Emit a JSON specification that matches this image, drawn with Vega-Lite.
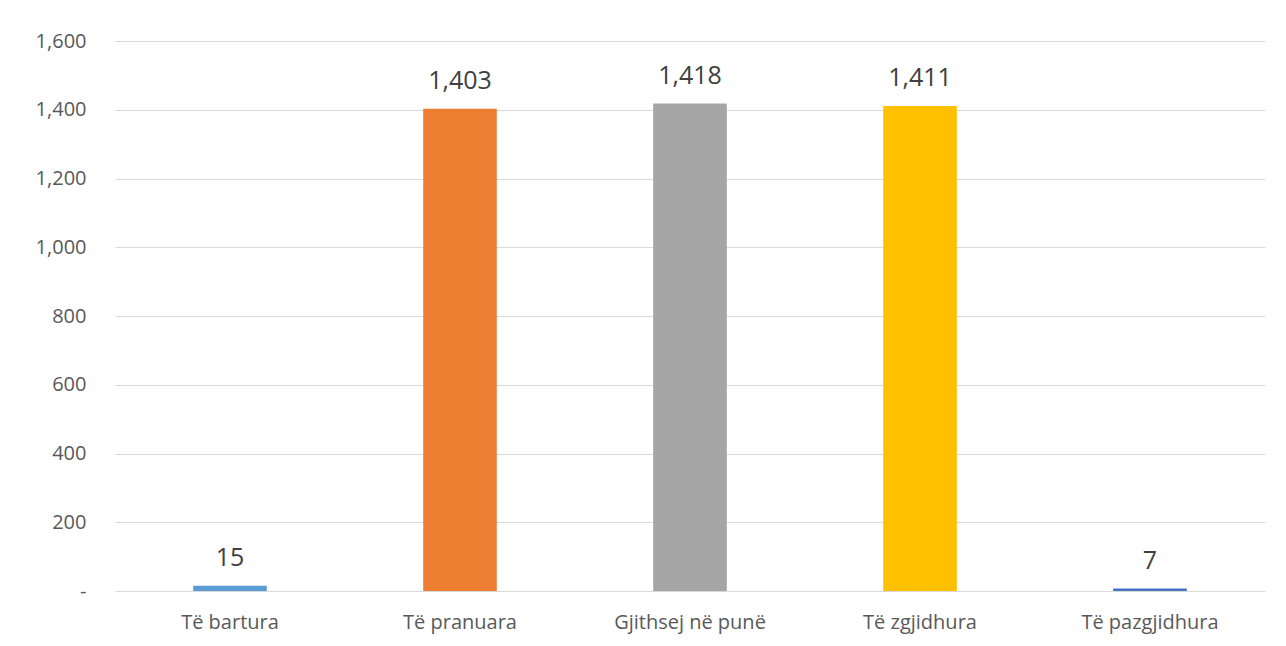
{
  "$schema": "https://vega.github.io/schema/vega-lite/v6.json",
  "width": 1150,
  "height": 550,
  "autosize": {"type": "none"},
  "padding": {"left": 115, "top": 41, "right": 21, "bottom": 55},
  "background": "white",
  "config": {
    "view": {"stroke": null},
    "font": "Open Sans"
  },
  "data": {
    "values": [
      {"kategoria": "Të bartura", "vlera": 15, "ngjyra": "#5B9BD5"},
      {"kategoria": "Të pranuara", "vlera": 1403, "ngjyra": "#ED7D31"},
      {"kategoria": "Gjithsej në punë", "vlera": 1418, "ngjyra": "#A5A5A5"},
      {"kategoria": "Të zgjidhura", "vlera": 1411, "ngjyra": "#FFC000"},
      {"kategoria": "Të pazgjidhura", "vlera": 7, "ngjyra": "#4472C4"}
    ]
  },
  "encoding": {
    "x": {
      "field": "kategoria",
      "type": "nominal",
      "sort": null,
      "scale": {"paddingInner": 0.68, "paddingOuter": 0.34},
      "axis": {
        "title": null,
        "labelAngle": 0,
        "labelFontSize": 20,
        "labelColor": "#595959",
        "labelBaseline": "alphabetic",
        "labelPadding": 37,
        "ticks": false,
        "domain": false
      }
    },
    "y": {
      "field": "vlera",
      "type": "quantitative",
      "scale": {"domain": [0, 1600]},
      "axis": {
        "title": null,
        "values": [0, 200, 400, 600, 800, 1000, 1200, 1400, 1600],
        "labelExpr": "datum.value === 0 ? '-' : format(datum.value, ',')",
        "labelFontSize": 20,
        "labelColor": "#595959",
        "labelPadding": 29,
        "ticks": false,
        "domain": false,
        "grid": true,
        "gridColor": "#D9D9D9",
        "gridWidth": 1
      }
    }
  },
  "layer": [
    {
      "mark": {"type": "bar"},
      "encoding": {
        "color": {"field": "ngjyra", "type": "nominal", "scale": null, "legend": null}
      }
    },
    {
      "mark": {"type": "text", "baseline": "alphabetic", "dy": -20, "fontSize": 25, "color": "#404040"},
      "encoding": {
        "text": {"field": "vlera", "type": "quantitative", "format": ","}
      }
    }
  ]
}
